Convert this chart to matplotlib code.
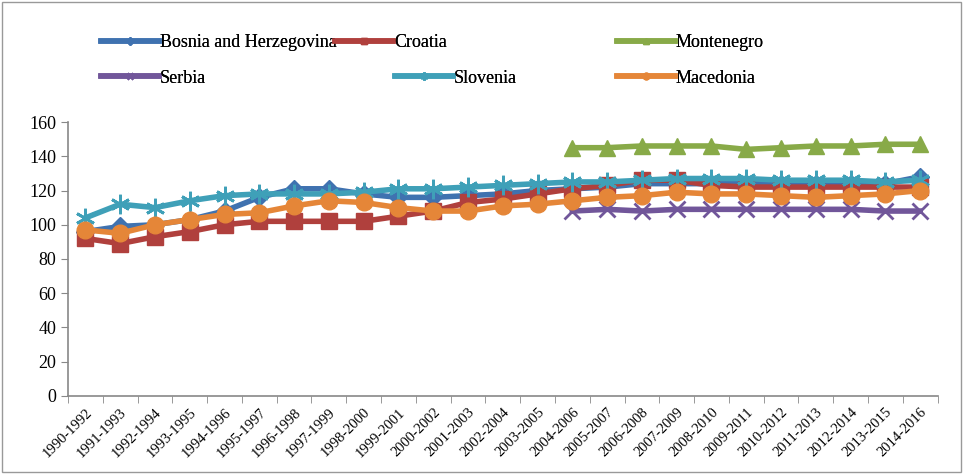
import matplotlib
matplotlib.use("Agg")
import matplotlib.pyplot as plt
from matplotlib.patches import Rectangle
import numpy as np

plt.rcParams['font.family'] = ['Liberation Serif', 'DejaVu Serif']

# data
periods = ["1990-1992", "1991-1993", "1992-1994", "1993-1995", "1994-1996",
           "1995-1997", "1996-1998", "1997-1999", "1998-2000", "1999-2001",
           "2000-2002", "2001-2003", "2002-2004", "2003-2005", "2004-2006",
           "2005-2007", "2006-2008", "2007-2009", "2008-2010", "2009-2011",
           "2010-2012", "2011-2013", "2012-2014", "2013-2015", "2014-2016"]

bosnia = [96, 99, 100, 103, 108, 116, 121, 121, 118, 116, 116, 117, 118,
          120, 121, 122, 124, 124, 124, 124, 124, 124, 124, 124, 128]
croatia = [92, 89, 93, 96, 100, 102, 102, 102, 102, 105, 108, 113, 115,
           118, 121, 123, 126, 126, 123, 122, 122, 122, 122, 122, 122]
montenegro = [None] * 14 + [145, 145, 146, 146, 146, 144, 145, 146, 146, 147, 147]
serbia = [None] * 14 + [108, 109, 108, 109, 109, 109, 109, 109, 109, 108, 108]
slovenia = [104, 112, 110, 114, 117, 118, 118, 118, 119, 121, 121, 122, 123,
            124, 125, 125, 126, 127, 127, 127, 126, 126, 126, 125, 126]
macedonia = [97, 95, 100, 103, 106, 107, 111, 114, 113, 110, 108, 108, 111,
             112, 114, 116, 117, 119, 118, 118, 117, 116, 117, 118, 120]

series = [
    ("Bosnia and Herzegovina", bosnia, "#3F72B0", "D", 9),
    ("Croatia", croatia, "#B0403D", "s", 11),
    ("Montenegro", montenegro, "#88AA48", "^", 12),
    ("Serbia", serbia, "#71569A", "x", 11),
    ("Slovenia", slovenia, "#3FA0B8", (6, 2, 0), 14),
    ("Macedonia", macedonia, "#E58638", "o", 12),
]

fig = plt.figure(figsize=(9.63, 4.74), dpi=100)
ax = fig.add_axes([0.0706, 0.1646, 0.903, 0.578])

x = np.arange(len(periods))
lines = []
for name, vals, color, marker, ms in series:
    y = np.array([np.nan if v is None else v for v in vals], dtype=float)
    ln, = ax.plot(x, y, color=color, lw=4, marker=marker, markersize=ms,
                  markeredgewidth=2 if marker in ("x", (6, 2, 0)) else 1,
                  markeredgecolor=color, label=name)
    lines.append(ln)

ax.set_xlim(-0.5, len(periods) - 0.5)
ax.set_ylim(0, 160)
ax.set_yticks(range(0, 161, 20))
ax.set_xticks(x)
ax.set_xticklabels(periods, rotation=45, ha="right", rotation_mode="anchor",
                   fontsize=10.5)
ax.set_xticks(np.arange(-0.5, len(periods)), minor=True)
ax.tick_params(axis="x", which="major", length=0, pad=7)
ax.tick_params(axis="x", which="minor", length=5, color="#888888")
ax.tick_params(axis="y", length=5, color="#888888", labelsize=13)
for s in ("top", "right"):
    ax.spines[s].set_visible(False)
for s in ("left", "bottom"):
    ax.spines[s].set_color("#888888")
    ax.spines[s].set_linewidth(1.2)

# legend entries placed like the original (uneven columns)
spots = [(0.105, 0.91), (0.348, 0.91), (0.641, 0.91),
         (0.105, 0.835), (0.410, 0.835), (0.641, 0.835)]
for ln, (lx, ly) in zip(lines, spots):
    leg = fig.legend(handles=[ln], loc="center left", bbox_to_anchor=(lx, ly),
                     frameon=False, fontsize=13, handlelength=3.2,
                     handletextpad=0.05, markerscale=0.4, borderaxespad=0,
                     borderpad=0)
    fig.add_artist(leg)

fig.add_artist(Rectangle((0.002, 0.004), 0.996, 0.992, transform=fig.transFigure,
                         fill=False, edgecolor="#999999", lw=1))

fig.savefig("out.png", dpi=100)
